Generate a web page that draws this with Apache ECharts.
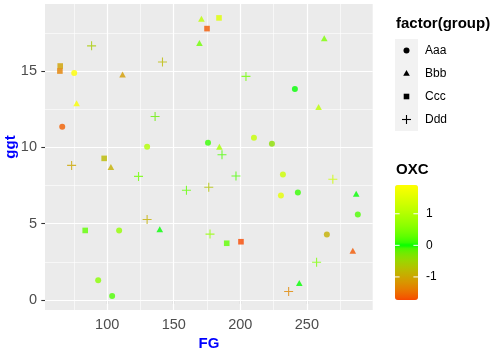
<!DOCTYPE html>
<html>
<head>
<meta charset="utf-8">
<script src="https://cdn.jsdelivr.net/npm/echarts@6/dist/echarts.min.js"></script>
<style>
html,body{margin:0;padding:0;background:#fff;}
#chart{width:503px;height:355px;}
</style>
</head>
<body>
<div id="chart"></div>
<script>
// ---------------- data ----------------
const groupNames = ['Aaa', 'Bbb', 'Ccc', 'Ddd'];
// [FG, ggt, OXC]
const aaaPoints = [
  [75.25, 14.87, 1.91], [66.25, 11.35, -1.6], [130.0, 10.04, 1.0], [241.0, 13.83, 0.0],
  [175.75, 10.3, 0.1], [210.25, 10.63, 1.2], [223.75, 10.24, -0.4], [109.0, 4.56, 0.7],
  [93.25, 1.3, 0.6], [103.75, 0.26, 0.2], [232.0, 8.22, 1.3], [230.5, 6.85, 1.6],
  [243.25, 7.04, 0.1], [288.25, 5.61, 0.2], [265.0, 4.3, -0.9]
];
const bbbPoints = [
  [111.55, 14.78, -1.1], [77.05, 12.89, 1.85], [170.8, 18.43, 1.1], [169.3, 16.83, 0.4],
  [263.05, 17.15, 0.5], [258.8, 12.65, 1.1], [184.3, 10.04, 0.9], [102.8, 8.71, -0.9],
  [139.5, 4.63, 0.0], [287.05, 6.96, 0.0], [284.5, 3.23, -1.65], [244.3, 1.11, 0.0]
];
const cccPoints = [
  [64.75, 15.33, -1.05], [64.5, 15.0, -1.35], [97.75, 9.28, -0.8], [184.0, 18.48, 1.5],
  [175.0, 17.78, -1.65], [83.5, 4.56, 0.3], [189.8, 3.72, 0.3], [200.5, 3.82, -1.73]
];
const dddPoints = [
  [88.3, 16.65, -0.6], [141.55, 15.59, -0.8], [136.0, 12.02, -0.2], [204.25, 14.65, 0.4],
  [186.25, 9.52, 0.2], [73.3, 8.82, -1.0], [123.55, 8.1, 0.4], [159.55, 7.19, 0.3],
  [130.0, 5.28, -0.9], [196.75, 8.13, 0.2], [176.3, 7.39, -0.7], [269.5, 7.91, 1.3],
  [177.25, 4.32, 0.7], [257.3, 2.48, 0.5], [236.3, 0.56, -1.3]
];
const xTicks = [100, 150, 200, 250];
const xMinor = [75, 125, 175, 225, 275];
const yTicks = [0, 5, 10, 15];
const yMinor = [2.5, 7.5, 12.5, 17.5];
const oxcTicks = [1, 0, -1];

// ---------------- helpers ----------------
const allPts = aaaPoints.concat(bbbPoints, cccPoints, dddPoints);
function expandRange(vals) {
  const mn = Math.min.apply(null, vals), mx = Math.max.apply(null, vals);
  const e = (mx - mn) * 0.05;
  return [mn - e, mx + e];
}
const xr = expandRange(allPts.map(p => p[0]));
const yr = expandRange(allPts.map(p => p[1]));
const oxcMin = Math.min.apply(null, allPts.map(p => p[2]));
const oxcMax = Math.max.apply(null, allPts.map(p => p[2]));

// Lab interpolation (like scale_colour_gradient2)
function toLin(c) { c /= 255; return c <= 0.04045 ? c / 12.92 : Math.pow((c + 0.055) / 1.055, 2.4); }
function fromLin(c) { c = c <= 0.0031308 ? 12.92 * c : 1.055 * Math.pow(c, 1 / 2.4) - 0.055; return Math.max(0, Math.min(255, Math.round(c * 255))); }
const XN = 0.95047, YN = 1, ZN = 1.08883;
function rgb2lab(rgb) {
  const R = toLin(rgb[0]), G = toLin(rgb[1]), B = toLin(rgb[2]);
  const X = 0.4124 * R + 0.3576 * G + 0.1805 * B;
  const Y = 0.2126 * R + 0.7152 * G + 0.0722 * B;
  const Z = 0.0193 * R + 0.1192 * G + 0.9505 * B;
  const f = t => t > 0.008856 ? Math.cbrt(t) : 7.787 * t + 16 / 116;
  const fx = f(X / XN), fy = f(Y / YN), fz = f(Z / ZN);
  return [116 * fy - 16, 500 * (fx - fy), 200 * (fy - fz)];
}
function lab2rgb(lab) {
  const fy = (lab[0] + 16) / 116, fx = fy + lab[1] / 500, fz = fy - lab[2] / 200;
  const fi = t => t * t * t > 0.008856 ? t * t * t : (t - 16 / 116) / 7.787;
  const X = XN * fi(fx), Y = YN * fi(fy), Z = ZN * fi(fz);
  const R = 3.2406 * X - 1.5372 * Y - 0.4986 * Z;
  const G = -0.9689 * X + 1.8758 * Y + 0.0415 * Z;
  const B = 0.0557 * X - 0.2040 * Y + 1.0570 * Z;
  return 'rgb(' + fromLin(R) + ',' + fromLin(G) + ',' + fromLin(B) + ')';
}
const lowLab = rgb2lab([255, 0, 0]), midLab = rgb2lab([0, 255, 0]), highLab = rgb2lab([255, 255, 0]);
function colorAt(v) {
  const M = Math.max(Math.abs(oxcMin), Math.abs(oxcMax));
  const r = 0.5 + v / (2 * M);
  let a, b, t;
  if (r < 0.5) { a = lowLab; b = midLab; t = r / 0.5; } else { a = midLab; b = highLab; t = (r - 0.5) / 0.5; }
  return lab2rgb([a[0] + (b[0] - a[0]) * t, a[1] + (b[1] - a[1]) * t, a[2] + (b[2] - a[2]) * t]);
}
const NSTOP = 41;
const stops = [];
for (let i = 0; i < NSTOP; i++) stops.push(colorAt(oxcMin + (oxcMax - oxcMin) * i / (NSTOP - 1)));

const FONT = 'Liberation Sans, Arial, sans-serif';
const plusPath = 'path://M4.4,0 L5.6,0 L5.6,4.4 L10,4.4 L10,5.6 L5.6,5.6 L5.6,10 L4.4,10 L4.4,5.6 L0,5.6 L0,4.4 L4.4,4.4 Z';

// grid lines via markLine
const gridLineData = [];
xMinor.forEach(v => gridLineData.push({ xAxis: v, lineStyle: { width: 0.6 } }));
yMinor.forEach(v => gridLineData.push({ yAxis: v, lineStyle: { width: 0.6 } }));
xTicks.forEach(v => gridLineData.push({ xAxis: v, lineStyle: { width: 1.2 } }));
yTicks.forEach(v => gridLineData.push({ yAxis: v, lineStyle: { width: 1.2 } }));

// ---------------- legend & colorbar graphics ----------------
const graphics = [];
graphics.push({ type: 'text', x: 10.5, y: 147, rotation: Math.PI / 2,
  style: { text: 'ggt', fill: '#0000FF', font: 'bold 15px ' + FONT, align: 'center', verticalAlign: 'middle' } });
graphics.push({ type: 'text', x: 209, y: 343.5,
  style: { text: 'FG', fill: '#0000FF', font: 'bold 15px ' + FONT, align: 'center', verticalAlign: 'middle' } });
graphics.push({ type: 'text', x: 396, y: 23.5,
  style: { text: 'factor(group)', fill: '#000', font: 'bold 15px ' + FONT, align: 'left', verticalAlign: 'middle' } });
graphics.push({ type: 'rect', shape: { x: 395, y: 39, width: 23, height: 92 }, style: { fill: '#F2F2F2' } });
const kx = 406.5;
groupNames.forEach((name, i) => {
  const ky = 50.5 + 23 * i;
  if (i === 0) graphics.push({ type: 'circle', shape: { cx: kx, cy: ky, r: 3 }, style: { fill: '#000' } });
  if (i === 1) graphics.push({ type: 'polygon', shape: { points: [[kx, ky - 3.4], [kx - 3.3, ky + 2.3], [kx + 3.3, ky + 2.3]] }, style: { fill: '#000' } });
  if (i === 2) graphics.push({ type: 'rect', shape: { x: kx - 2.8, y: ky - 2.8, width: 5.6, height: 5.6 }, style: { fill: '#000' } });
  if (i === 3) {
    graphics.push({ type: 'line', shape: { x1: kx - 4.5, y1: ky, x2: kx + 4.5, y2: ky }, style: { stroke: '#000', lineWidth: 1.1 } });
    graphics.push({ type: 'line', shape: { x1: kx, y1: ky - 4.5, x2: kx, y2: ky + 4.5 }, style: { stroke: '#000', lineWidth: 1.1 } });
  }
  graphics.push({ type: 'text', x: 425, y: ky,
    style: { text: name, fill: '#000', font: '12px ' + FONT, align: 'left', verticalAlign: 'middle' } });
});
graphics.push({ type: 'text', x: 396, y: 170,
  style: { text: 'OXC', fill: '#000', font: 'bold 15px ' + FONT, align: 'left', verticalAlign: 'middle' } });
const cbTop = 185, cbH = 115, cbX = 395, cbW = 23;
oxcTicks.forEach(v => {
  const ty = cbTop + (oxcMax - v) / (oxcMax - oxcMin) * cbH;
  graphics.push({ type: 'line', z: 100, shape: { x1: cbX, y1: ty, x2: cbX + 4.6, y2: ty }, style: { stroke: '#fff', lineWidth: 1 } });
  graphics.push({ type: 'line', z: 100, shape: { x1: cbX + cbW - 4.6, y1: ty, x2: cbX + cbW, y2: ty }, style: { stroke: '#fff', lineWidth: 1 } });
  graphics.push({ type: 'text', x: 426, y: ty,
    style: { text: String(v), fill: '#000', font: '12px ' + FONT, align: 'left', verticalAlign: 'middle' } });
});

// ---------------- chart ----------------
const chart = echarts.init(document.getElementById('chart'), null, { renderer: 'canvas' });
const axisCommon = {
  type: 'value',
  axisLine: { show: false },
  axisTick: { show: true, length: 3.7, lineStyle: { color: '#333333', width: 1.1 } },
  axisLabel: { color: '#4D4D4D', fontSize: 14.5, fontFamily: FONT },
  splitLine: { show: false }
};
const seriesCommon = { type: 'scatter', z: 3, animation: false, emphasis: { disabled: true } };
chart.setOption({
  animation: false,
  backgroundColor: '#ffffff',
  grid: { left: 45, right: 130.3, top: 4, bottom: 45, show: true, backgroundColor: '#EBEBEB', borderWidth: 0 },
  xAxis: Object.assign({}, axisCommon, {
    min: xr[0], max: xr[1],
    axisTick: Object.assign({}, axisCommon.axisTick, { customValues: xTicks }),
    axisLabel: Object.assign({}, axisCommon.axisLabel, { customValues: xTicks, margin: 7 })
  }),
  yAxis: Object.assign({}, axisCommon, {
    min: yr[0], max: yr[1],
    axisTick: Object.assign({}, axisCommon.axisTick, { customValues: yTicks }),
    axisLabel: Object.assign({}, axisCommon.axisLabel, { customValues: yTicks, margin: 8 })
  }),
  visualMap: {
    type: 'continuous', min: oxcMin, max: oxcMax, dimension: 2, seriesIndex: [1, 2, 3, 4],
    orient: 'vertical', left: cbX, top: cbTop, itemWidth: cbW, itemHeight: cbH,
    padding: 0, calculable: false, hoverLink: false, text: null, showLabel: false,
    inRange: { color: stops }
  },
  graphic: graphics,
  series: [
    { type: 'scatter', data: [], z: 1, silent: true,
      markLine: { silent: true, z: 1, symbol: ['none', 'none'], label: { show: false }, animation: false,
        lineStyle: { color: '#ffffff', type: 'solid' }, emphasis: { disabled: true }, data: gridLineData } },
    Object.assign({}, seriesCommon, { name: 'Aaa', data: aaaPoints, symbol: 'circle', symbolSize: 6 }),
    Object.assign({}, seriesCommon, { name: 'Bbb', data: bbbPoints, symbol: 'triangle', symbolSize: [6.6, 6] }),
    Object.assign({}, seriesCommon, { name: 'Ccc', data: cccPoints, symbol: 'rect', symbolSize: 5.6 }),
    Object.assign({}, seriesCommon, { name: 'Ddd', data: dddPoints, symbol: plusPath, symbolSize: 9 })
  ]
});
</script>
</body>
</html>
